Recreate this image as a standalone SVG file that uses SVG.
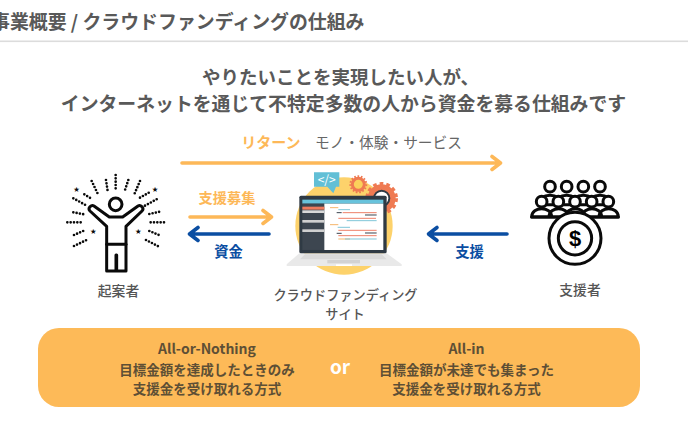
<svg xmlns="http://www.w3.org/2000/svg" width="688" height="424" viewBox="0 0 688 424">
<defs><style>
text{font-family:"Noto Sans CJK JP","Noto Sans",sans-serif;text-anchor:middle;fill:#595959;font-weight:700}
.lab{font-size:13.8px;font-weight:500;fill:#555}
.pn{font-size:13.5px;fill:#5e4f35;font-weight:700}
.ar{fill:none;stroke-width:3.6;stroke-linecap:round;stroke-linejoin:round}
.or{stroke:#fdb858}.bl{stroke:#0b4ea2}
.ic{fill:#fff;stroke:#0a0a0a;stroke-width:9;stroke-linejoin:round;stroke-linecap:round}
.dots{fill:none;stroke:#0a0a0a;stroke-width:8;stroke-linecap:round;stroke-dasharray:0 10}
.st{fill:#0a0a0a;font-size:22px;font-family:"DejaVu Sans",sans-serif}
</style></defs>
<rect width="688" height="424" fill="#fff"/>
<g id="header">
<text x="364.500" y="29" font-size="18.9" style="text-anchor:end">事業概要 / クラウドファンディングの仕組み</text>
<rect x="0" y="40.500" width="688" height="1.6" fill="#dcdcdc"/>
</g>
<g id="title">
<text x="340.500" y="84" font-size="18.5">やりたいことを実現したい人が、</text>
<text x="343.500" y="111" font-size="18.85">インターネットを通じて不特定多数の人から資金を募る仕組みです</text>
</g>
<g id="connectors">
<path class="ar or" d="M182 163H500M492 156.500L500.500 163L492 169.500"/>
<path class="ar or" d="M190 217H271M263 210.500L271.500 217L263 223.500"/>
<path class="ar bl" d="M269 234H190M198 227.500L189.500 234L198 240.500"/>
<path class="ar bl" d="M507 234H429M437 227.500L428.500 234L437 240.500"/>
</g>
<g id="edge-labels">
<text x="271" y="148" font-size="15" style="fill:#fdb858">リターン</text>
<text x="388.500" y="148" font-size="14.700" style="font-weight:400;fill:#666">モノ・体験・サービス</text>
<text x="227" y="203" font-size="14.200" style="fill:#fdb858">支援募集</text>
<text x="228.500" y="257" font-size="14.300" style="fill:#0b4ea2">資金</text>
<text x="469.500" y="257" font-size="14.300" style="fill:#0b4ea2">支援</text>
</g>
<g id="node-proposer">
<g transform="translate(50,165) scale(.3333)">
<path class="dots" d="M197 30V72M235 45L224 78M270 48L252 90M168 45L173 78M125 48L145 90M103 88L127 103M70 100L112 123M70 142L102 148M52 172H97M72 210L102 197M72 243L112 224M270 98L300 81M285 122L327 99M298 147L330 140M302 172H347M298 198L329 211M288 225L329 246"/>
<text class="st" x="80" y="80">★</text><text class="st" x="315" y="80">★</text><text class="st" x="130" y="206">★</text><text class="st" x="265" y="206">★</text>
<path class="ic" d="M132 123L178 156H218L264 123C272 118 284 130 276 138L228 184V318H200V270H198V318H170V184L120 138C112 130 124 118 132 123Z"/>
<path class="ic" d="M170 238H228" fill="none"/>
<circle class="ic" cx="197" cy="118" r="19"/>
</g>
<text class="lab" x="118.500" y="296">起案者</text>
</g>
<g id="node-site">
<g transform="translate(270,165) scale(.3333)">
<circle cx="222" cy="183" r="146" fill="#fdd26b"/>
<path d="M132 22H208V65H198L190 85L172 65H132Z" fill="#62bfd6"/>
<text x="170" y="56" font-size="36" style="fill:#fff;font-weight:400">&lt;/&gt;</text>
<circle cx="265" cy="58" r="18" fill="#fbd15b" stroke="#ef7a52" stroke-width="9"/>
<circle cx="265" cy="58" r="24" fill="none" stroke="#ef7a52" stroke-width="6" stroke-dasharray="5 5"/>
<circle cx="335" cy="100" r="34" fill="#2f3a44" stroke="#ef7a52" stroke-width="16"/>
<circle cx="335" cy="100" r="44" fill="none" stroke="#ef7a52" stroke-width="10" stroke-dasharray="11 9"/>
<circle cx="335" cy="100" r="20" fill="#fff"/>
<path d="M88 265H350L395 298V303H50V298Z" fill="#e9e9e9"/>
<path d="M105 268H335L350 283H90Z" fill="#dadada"/><rect x="172" y="285" width="98" height="10" fill="#d2d2d2"/><rect x="198" y="298" width="48" height="5" fill="#fff"/>
<rect x="88" y="92" width="262" height="173" rx="5" fill="#2f3a44"/>
<rect x="97" y="104" width="243" height="12" fill="#68c3dc"/>
<rect x="97" y="116" width="66" height="139" fill="#3d4650"/>
<rect x="163" y="116" width="177" height="139" fill="#fff"/>
<rect x="97" y="125" width="66" height="9" fill="#ee7b5e"/><rect x="97" y="136" width="66" height="8" fill="#d9d9d9"/><rect x="97" y="165" width="66" height="8" fill="#d0d0d0"/><rect x="97" y="193" width="66" height="8" fill="#d0d0d0"/>
<g stroke-width="3" fill="none">
<path stroke="#f5b66a" d="M180 128H205M180 179H205M205 222H240"/>
<path stroke="#7fc6d8" d="M205 134H240M203 187H240M225 222H320M230 167H320"/>
<path stroke="#39424c" d="M200 143H215M285 150H320M200 205H215M285 204H320"/>
<path stroke="#ee8068" d="M218 143H320M205 160H318M205 196H320M205 212H320"/>
</g>
</g>
<text class="lab" x="345.500" y="300" style="font-size:13.2px">クラウドファンディング</text>
<text class="lab" x="345" y="319" style="font-size:13.2px">サイト</text>
</g>
<g id="node-supporters">
<g transform="translate(520,170) scale(.3333)">
<g class="ic">
<path d="M55 104C55 66 125 66 125 104ZM105 104C105 66 175 66 175 104ZM155 104C155 66 225 66 225 104ZM205 104C205 66 275 66 275 104Z"/>
<circle cx="90" cy="50" r="16"/><circle cx="140" cy="50" r="16"/><circle cx="190" cy="50" r="16"/><circle cx="240" cy="50" r="16"/>
<path d="M35 141C35 108 95 108 95 141ZM87 141C87 108 145 108 145 141ZM137 141C137 108 195 108 195 141ZM187 141C187 108 245 108 245 141ZM237 141C237 108 295 108 295 141Z"/>
<circle cx="65" cy="95" r="16"/><circle cx="115" cy="95" r="16"/><circle cx="165" cy="95" r="16"/><circle cx="215" cy="95" r="16"/><circle cx="265" cy="95" r="16"/>
<path d="M35 141H295" fill="none"/>
<circle cx="165" cy="205" r="78"/><circle cx="165" cy="205" r="50"/>
</g>
<text x="165" y="229" font-size="66" style="fill:#000;font-family:'Liberation Sans',sans-serif;font-weight:700">$</text>
</g>
<text class="lab" x="580" y="295">支援者</text>
</g>
<g id="node-methods">
<rect x="38" y="328" width="602" height="79" rx="21" fill="#fdba58"/>
<text class="pn" x="207" y="353.500" style="font-size:14px">All-or-Nothing</text>
<text class="pn" x="207" y="375">目標金額を達成したときのみ</text>
<text class="pn" x="207" y="394">支援金を受け取れる方式</text>
<text x="340" y="374" font-size="19" style="fill:#fff">or</text>
<text class="pn" x="466.500" y="353.500" style="font-size:14px">All-in</text>
<text class="pn" x="466.500" y="375">目標金額が未達でも集まった</text>
<text class="pn" x="466.500" y="394">支援金を受け取れる方式</text>
</g>
</svg>
